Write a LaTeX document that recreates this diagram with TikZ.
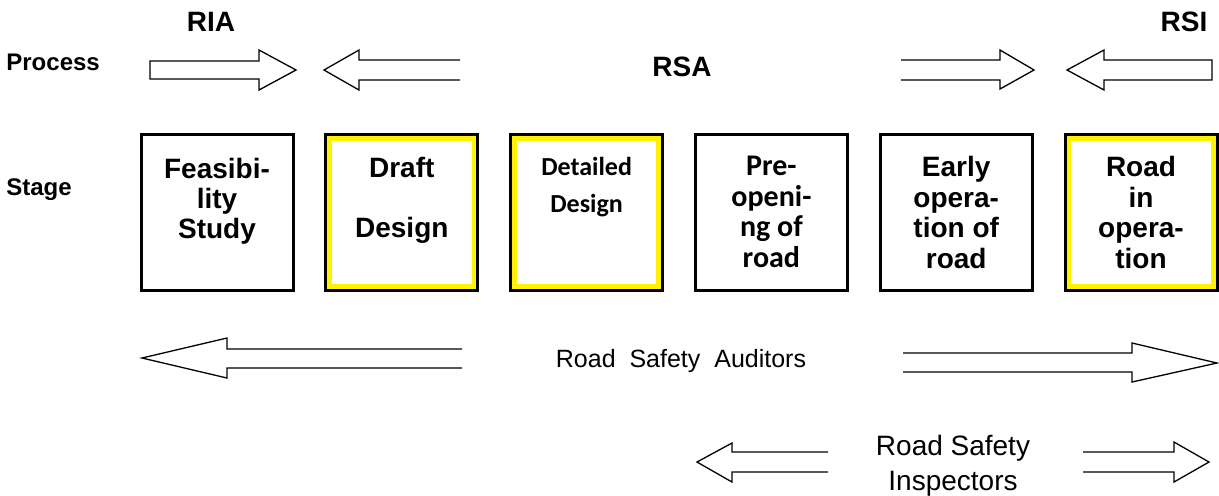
\documentclass[tikz,border=0pt]{standalone}
\usepackage{fontspec}
\setmainfont{Liberation Sans}
\newfontfamily\calibri{Carlito}

\begin{document}
\begin{tikzpicture}[x=0.5pt, y=-0.5pt,
    stagebox/.style={draw, line width=1.5pt, minimum width=76pt, minimum height=78pt, inner sep=0pt},
    yellowbox/.style={stagebox, path picture={\draw[yellow, line width=6.3pt] (path picture bounding box.south west) rectangle (path picture bounding box.north east);}},
    stagetext/.style={anchor=north, align=center, inner sep=0pt, font=\fontsize{14}{15}\selectfont\bfseries},
    blockarrow/.style={draw, line width=0.65pt, line join=miter},
    title/.style={anchor=base, inner sep=0pt, font=\fontsize{14}{17}\selectfont\bfseries},
    rowlabel/.style={anchor=base west, inner sep=0pt, font=\fontsize{12}{14}\selectfont\bfseries}]

    \useasboundingbox (0,0) rectangle (1219,495);

    % Row labels and process names
    \node[rowlabel] (process) at (6,70) {Process};
    \node[rowlabel] (stage) at (6,195.5) {Stage};
    \node[title] (ria) at (211,31.5) {RIA};
    \node[title] (rsa) at (682,76.7) {RSA};
    \node[title] (rsi) at (1184,31.5) {RSI};

    % Process arrows
    \draw[blockarrow] (150,61) -- (259,61) -- (259,50) -- (296,70) -- (259,90) -- (259,79) -- (150,79) -- cycle;
    \draw[blockarrow] (460,60) -- (359,60) -- (359,50) -- (324,70) -- (359,90) -- (359,80) -- (460,80);
    \draw[blockarrow] (901,60) -- (1000,60) -- (1000,50) -- (1034,70) -- (1000,89) -- (1000,80) -- (901,80);
    \draw[blockarrow] (1212,60) -- (1104,60) -- (1104,50) -- (1067,70) -- (1104,90) -- (1104,80) -- (1212,80) -- cycle;

    % Stages
    \node[stagebox] (feas) at (217,212.5) {};
    \node[yellowbox] (draft) at (401.8,212.5) {};
    \node[yellowbox] (detail) at (586.6,212.5) {};
    \node[stagebox] (preopen) at (771.4,212.5) {};
    \node[stagebox] (early) at (956.2,212.5) {};
    \node[yellowbox] (inop) at (1141,212.5) {};

    % Stage texts
    \node[stagetext] (feastxt) at ([yshift=-12.5pt]feas.north) {Feasibi-\\lity\\Study};
    \node[stagetext] (drafttxt) at ([yshift=-12pt]draft.north) {Draft\\[15pt]Design};
    \node[stagetext, font=\calibri\fontsize{13}{18.5}\selectfont\bfseries] (detailtxt) at ([yshift=-12pt]detail.north) {Detailed\\Design};
    \node[stagetext, font=\calibri\fontsize{15}{15.2}\selectfont\bfseries] (preopentxt) at ([yshift=-11.5pt]preopen.north) {Pre-\\openi-\\ng of\\road};
    \node[stagetext, font=\fontsize{14}{15.3}\selectfont\bfseries] (earlytxt) at ([yshift=-11.5pt]early.north) {Early\\opera-\\tion of\\road};
    \node[stagetext, font=\fontsize{14}{15.3}\selectfont\bfseries] (inoptxt) at ([yshift=-11.5pt]inop.north) {Road\\in\\opera-\\tion};

    % Auditors
    \node[anchor=base, inner sep=0pt, font=\fontsize{12.5}{14}\selectfont] (auditors) at (681,367) {Road\ \ Safety\ \ Auditors};
    \draw[blockarrow] (462,349) -- (227,349) -- (227,338) -- (142,358) -- (227,378) -- (227,368) -- (462,368);
    \draw[blockarrow] (903,353) -- (1132,353) -- (1132,343) -- (1217,363) -- (1132,382) -- (1132,372) -- (903,372);

    % Inspectors
    \node[anchor=north, align=center, inner sep=0pt, font=\fontsize{14}{17.5}\selectfont] (inspectors) at (953,435) {Road Safety\\Inspectors};
    \draw[blockarrow] (828,452) -- (732,452) -- (732,443) -- (697,462) -- (732,482) -- (732,472) -- (828,472);
    \draw[blockarrow] (1083,452) -- (1174,452) -- (1174,442) -- (1209,462) -- (1174,482) -- (1174,472) -- (1083,472);

\end{tikzpicture}
\end{document}
